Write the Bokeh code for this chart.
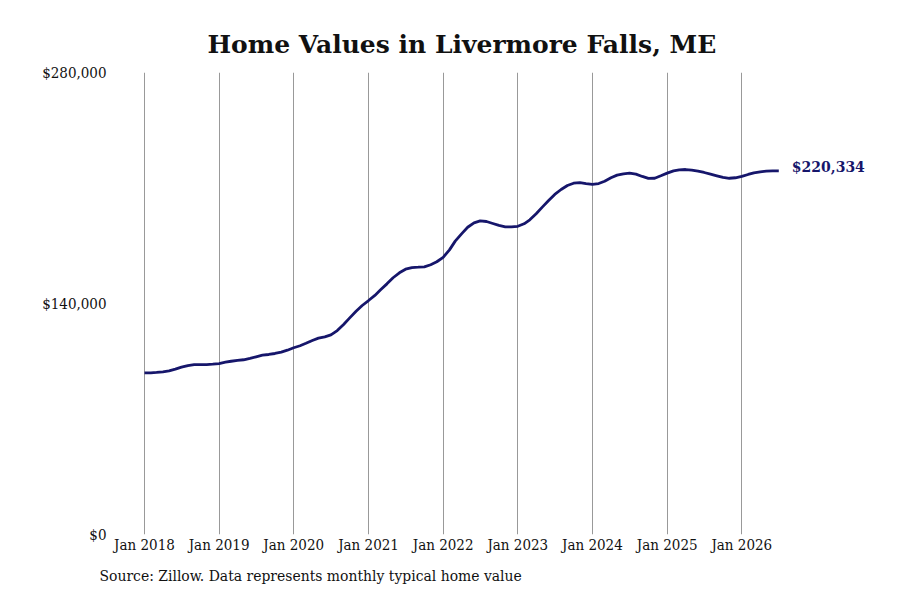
from datetime import datetime, timedelta

import pandas as pd
from bokeh.core.properties import value
from bokeh.embed import file_html
from bokeh.models import (ColumnDataSource, DatetimeTickFormatter, FixedTicker,
                          NumeralTickFormatter, Range1d, Title)
from bokeh.plotting import figure
from bokeh.resources import INLINE

# monthly typical home value, Jan 2018 .. Jul 2026
values_2018 = [98000, 98000, 98200, 98600, 99200, 100200, 101400, 102400, 103000, 103000, 103000, 103200]
values_2019 = [103600, 104400, 105000, 105500, 105900, 106700, 107700, 108700, 109100, 109700, 110500, 111700]
values_2020 = [113200, 114400, 115900, 117600, 119000, 119800, 121000, 123600, 127300, 131300, 135300, 138800]
values_2021 = [141800, 144900, 148300, 151900, 155600, 158600, 160800, 161800, 162000, 162200, 163500, 165300]
values_2022 = [168000, 172500, 177800, 182200, 186200, 188900, 190100, 189700, 188500, 187300, 186500, 186500]
values_2023 = [186800, 188300, 190700, 194400, 198400, 202400, 206100, 209100, 211500, 212900, 213300, 212700]
values_2024 = [212200, 212700, 214100, 216200, 217800, 218600, 219000, 218400, 217000, 215800, 215900, 217400]
values_2025 = [219000, 220400, 221000, 221200, 220800, 220200, 219400, 218400, 217400, 216400, 215900, 216200]
values_2026 = [217000, 218200, 219200, 219800, 220200, 220400, 220334]

home_values = (values_2018 + values_2019 + values_2020 + values_2021 + values_2022
               + values_2023 + values_2024 + values_2025 + values_2026)
months = pd.date_range("2018-01-01", periods=len(home_values), freq="MS")
tick_years = list(range(2018, 2027))
y_ticks = [0, 140000, 280000]

FONT = "DejaVu Serif"
SMALL_FONT = "DejaVu Serif Condensed"
LINE_COLOR = "#16166b"

source = ColumnDataSource(data=dict(month=months, value=home_values))
last = ColumnDataSource(data=dict(month=[months[-1]], value=[home_values[-1]],
                                  label=["${:,}".format(home_values[-1])]))

W, H = 892, 592
# map the frame so Jan 2018 / Jan 2026 land where the reference has them
frame_left, frame_right = 115, 882
frame_top, frame_bottom = 72, 534
jan18_px, jan26_px = 144.0, 741.3
t0, t1 = datetime(2018, 1, 1), datetime(2026, 1, 1)
px_per_day = (jan26_px - jan18_px) / (t1 - t0).days
x_start = t0 - timedelta(days=(jan18_px - frame_left) / px_per_day)
x_end = t1 + timedelta(days=(frame_right - jan26_px) / px_per_day)

p = figure(width=W, height=H, x_axis_type="datetime",
           x_range=Range1d(x_start, x_end), y_range=Range1d(0, 280000),
           output_backend="svg", toolbar_location=None,
           min_border_left=frame_left, min_border_right=W - frame_right,
           min_border_top=frame_top, min_border_bottom=H - frame_bottom)
p.outline_line_color = None
p.background_fill_color = "white"
p.border_fill_color = "white"

p.title.text = "Home Values in Livermore Falls, ME"
p.title.text_font = FONT
p.title.text_font_size = "25px"
p.title.text_font_style = "bold"
p.title.text_color = "#111111"
p.title.align = "left"
p.title.offset = 92
p.title.standoff = 28

p.line(x="month", y="value", source=source, line_color=LINE_COLOR, line_width=2.8)
p.text(x="month", y="value", text="label", source=last, x_offset=13, y_offset=-4,
       text_baseline="middle", text_align="left", text_color=LINE_COLOR,
       text_font=value(FONT), text_font_size="14px", text_font_style="bold")

# x axis: Jan ticks, vertical grid only
p.xaxis.ticker = FixedTicker(ticks=[datetime(y, 1, 1).timestamp() * 1000 for y in tick_years])
fmt = "%b %Y"
p.xaxis.formatter = DatetimeTickFormatter(days=fmt, months=fmt, years=fmt)
p.xaxis.axis_line_color = None
p.xaxis.major_tick_line_color = None
p.xaxis.minor_tick_line_color = None
p.xaxis.major_tick_out = 0
p.xaxis.major_tick_in = 0
p.xaxis.major_label_standoff = 1
p.xaxis.major_label_text_font = SMALL_FONT
p.xaxis.major_label_text_font_size = "15px"
p.xaxis.major_label_text_color = "#111111"
p.xgrid.grid_line_color = "#999999"
p.xgrid.grid_line_width = 1

p.yaxis.ticker = FixedTicker(ticks=y_ticks)
p.yaxis.formatter = NumeralTickFormatter(format="$0,0")
p.yaxis.axis_line_color = None
p.yaxis.major_tick_line_color = None
p.yaxis.minor_tick_line_color = None
p.yaxis.major_tick_out = 0
p.yaxis.major_tick_in = 0
p.yaxis.major_label_standoff = 9
p.yaxis.major_label_text_font = SMALL_FONT
p.yaxis.major_label_text_font_size = "15px"
p.yaxis.major_label_text_color = "#111111"
p.ygrid.grid_line_color = None

note = Title(text="Source: Zillow. Data represents monthly typical home value")
note.text_font = SMALL_FONT
note.text_font_size = "15.5px"
note.text_font_style = "normal"
note.text_color = "#111111"
note.align = "left"
note.offset = -16
note.standoff = 16
p.add_layout(note, "below")

open("out.html", "w").write(file_html(p, INLINE))
